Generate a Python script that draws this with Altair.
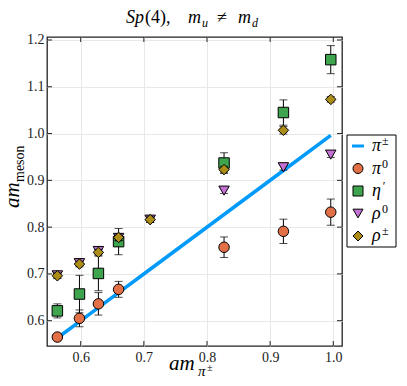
import altair as alt
import pandas as pd

# ---- data ----
m_pipm = [0.563, 0.598, 0.628, 0.660, 0.710, 0.827, 0.921, 0.996]
pi_pm = [0.563, 0.598, 0.628, 0.660, 0.710, 0.827, 0.921, 0.996]

pi0 = [0.565, 0.605, 0.636, 0.667, None, 0.757, 0.791, 0.832]
pi0_err = [0.003, 0.018, 0.024, 0.017, None, 0.022, 0.026, 0.028]

etap = [0.621, 0.657, 0.701, 0.769, None, 0.937, 1.045, 1.158]
etap_err = [0.015, 0.040, 0.037, 0.028, None, 0.022, 0.027, 0.030]

rho0 = [0.697, 0.723, 0.749, 0.777, 0.816, 0.878, 0.928, 0.955]
rho0_err = [0.006, 0.006, 0.006, 0.006, 0.006, 0.006, 0.006, 0.006]

rhopm = [0.696, 0.721, 0.746, 0.778, 0.816, 0.923, 1.007, 1.073]
rhopm_err = [0.006, 0.006, 0.006, 0.007, 0.006, 0.007, 0.008, 0.006]

x_ticks = [0.6, 0.7, 0.8, 0.9, 1.0]
y_ticks = [0.6, 0.7, 0.8, 0.9, 1.0, 1.1, 1.2]

series_names = ["pi0", "etap", "rho0", "rhopm"]
series_vals = [pi0, etap, rho0, rhopm]
series_errs = [pi0_err, etap_err, rho0_err, rhopm_err]
series_colors = ["#E36F47", "#3EA44E", "#C371D2", "#AC8D18"]
series_shapes = ["circle", "square", "triangle-down", "diamond"]
line_color = "#009AFA"

legend_base = ["π", "π", "η", "ρ", "ρ"]
legend_sup = ["±", "0", "′", "0", "±"]

W, H = 295, 309
FONT = "Liberation Serif"
XD = [0.5466, 1.0138]
YD = [0.5459, 1.2064]

xs = alt.Scale(domain=XD, nice=False, zero=False)
ys = alt.Scale(domain=YD, nice=False, zero=False)

one = pd.DataFrame({"a": [0]})


def txt(s, x, y, size, italic=False, angle=0):
    kw = dict(text=s, align="left", baseline="alphabetic", font=FONT,
              fontSize=size, fontStyle="italic" if italic else "normal",
              color="black")
    if angle:
        kw["angle"] = angle
    return alt.Chart(one).mark_text(**kw).encode(x=alt.value(x), y=alt.value(y))


layers = []

# pi+- line with axes
line_df = pd.DataFrame({"x": m_pipm, "y": pi_pm})
layers.append(
    alt.Chart(line_df).mark_line(color=line_color, strokeWidth=3.5).encode(
        x=alt.X("x:Q", scale=xs, axis=alt.Axis(
            values=x_ticks, format=".1f", title=None, labelPadding=4,
            labelFont=FONT)),
        y=alt.Y("y:Q", scale=ys, axis=alt.Axis(
            values=y_ticks, format=".1f", title=None, labelPadding=3,
            labelFont=FONT)),
    )
)

# inward ticks on all four sides
xt = pd.DataFrame({"x": x_ticks})
yt = pd.DataFrame({"y": y_ticks})
for (a, b) in [(H, H - 5), (0, 5)]:
    layers.append(alt.Chart(xt).mark_rule(color="#222", strokeWidth=1).encode(
        x=alt.X("x:Q", scale=xs), y=alt.value(a), y2=alt.value(b)))
for (a, b) in [(0, 5), (W, W - 5)]:
    layers.append(alt.Chart(yt).mark_rule(color="#222", strokeWidth=1).encode(
        y=alt.Y("y:Q", scale=ys), x=alt.value(a), x2=alt.value(b)))

# series: error bars then markers
for name, vals, errs, col, shp in zip(series_names, series_vals, series_errs,
                                      series_colors, series_shapes):
    rows = [(m, v, e) for m, v, e in zip(m_pipm, vals, errs) if v is not None]
    df = pd.DataFrame(rows, columns=["x", "y", "e"])
    df["lo"] = df["y"] - df["e"]
    df["hi"] = df["y"] + df["e"]
    X = alt.X("x:Q", scale=xs)
    layers.append(alt.Chart(df).mark_rule(color="black", strokeWidth=1).encode(
        x=X, y=alt.Y("lo:Q", scale=ys), y2="hi:Q"))
    for f in ["lo", "hi"]:
        layers.append(alt.Chart(df).mark_tick(
            color="black", orient="horizontal", size=8, thickness=1).encode(
            x=X, y=alt.Y(f + ":Q", scale=ys)))
    layers.append(alt.Chart(df).mark_point(
        filled=True, shape=shp, size=110, fill=col, stroke="black",
        strokeWidth=1, opacity=1).encode(
        x=X, y=alt.Y("y:Q", scale=ys)))

# title
layers += [
    txt("Sp", 79, -14, 18, True),
    txt("(4),", 98, -14, 18, False),
    txt("m", 141, -14, 18, True),
    txt("u", 155, -10, 12, True),
    txt("≠", 170, -14, 18, False),
    txt("m", 191, -14, 18, True),
    txt("d", 205, -10, 12, True),
]

# axis titles
layers += [
    txt("am", 122, 333, 21, True),
    txt("π", 151, 339, 15, True),
    txt("±", 160, 334, 10, False),
    txt("am", -28, 171, 21, True, angle=270),
    txt("meson", -23, 145, 14, False, angle=270),
]

# legend
layers.append(alt.Chart(one).mark_rect(fill="white", stroke="black",
                                       strokeWidth=1).encode(
    x=alt.value(300), x2=alt.value(349), y=alt.value(98), y2=alt.value(210)))
for i in range(5):
    cy = 109 + 22.5 * i
    if i == 0:
        layers.append(alt.Chart(one).mark_rule(color=line_color,
                                               strokeWidth=3).encode(
            x=alt.value(305), x2=alt.value(317), y=alt.value(cy)))
    else:
        k = i - 1
        layers.append(alt.Chart(one).mark_point(
            filled=True, shape=series_shapes[k], size=100,
            fill=series_colors[k], stroke="black", strokeWidth=1,
            opacity=1).encode(x=alt.value(311), y=alt.value(cy)))
    layers.append(txt(legend_base[i], 325, cy + 5, 18, True))
    sup_it = legend_sup[i] == "′"
    layers.append(txt(legend_sup[i], 335, cy - 1, 12, sup_it))

chart = alt.layer(*layers).properties(
    width=W, height=H,
    padding={"left": 39, "top": 29, "right": 57, "bottom": 32},
    autosize=alt.AutoSizeParams(type="none"),
).configure_view(stroke="#222", strokeWidth=1.3).configure_axis(
    grid=True, ticks=False, domain=False, labelFont=FONT, labelFontSize=14,
    labelColor="#222", gridColor="#e8e8e8", gridWidth=1, labelFlush=False,
)

chart.save("out.html", embed_options={"renderer": "svg", "actions": False})
